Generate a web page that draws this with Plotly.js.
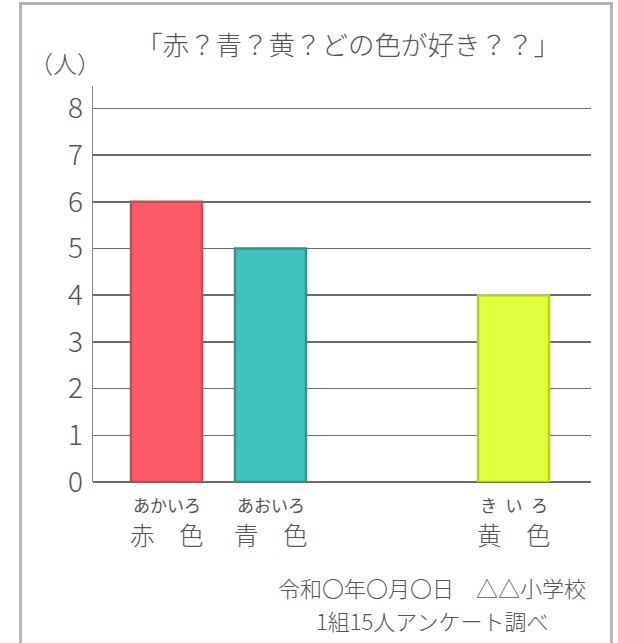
<!DOCTYPE html>
<html>
<head>
<meta charset="utf-8">
<script src="https://cdn.plot.ly/plotly-3.0.1.min.js"></script>
<style>
  html, body { margin: 0; padding: 0; background: #fff; }
  #wrap { position: relative; width: 618px; height: 643px; overflow: hidden; }
  #chart { width: 618px; height: 643px; }
  #frame { position: absolute; left: 19px; top: 2px; width: 594px; height: 700px;
           border: 3px solid #b3b3b3; border-bottom: none; pointer-events: none; box-sizing: border-box; }
</style>
</head>
<body>
<div id="wrap">
  <div id="chart"></div>
  <div id="frame"></div>
</div>
<script>
// ---- data ----
const categories = ["赤　色", "青　色", "黄　色"];
const readings = ["あかいろ", "あおいろ", "き\u2002い\u2002ろ"];
const values = [6, 5, 4];
const yTickValues = [0, 1, 2, 3, 4, 5, 6, 7, 8];
const yTickLabels = ["0", "1", "2", "3", "4", "5", "6", "7", "8"];
const chartTitle = "「赤？青？黄？どの色が好き？？」";
const yUnit = "（人）";
const footerLines = ["令和〇年〇月〇日　△△小学校", "1組15人アンケート調べ"];

// ---- styles ----
const fillColors = ["#FF5A69", "#3DC2BE", "#E1FF3A"];
const lineColors = ["#C94A56", "#2E9592", "#B7CE2E"];
const textColor = "#555555";
const FONT = "'Noto Sans CJK JP', 'Noto Sans', sans-serif";

// layout: the yellow bar sits apart from the first two
const gapBeforeLast = 1.337;
const xPos = categories.map((c, i) => i + (i === categories.length - 1 ? gapBeforeLast : 0));

const trace = {
  type: "bar",
  x: xPos,
  y: values,
  width: 0.683,
  marker: { color: fillColors, line: { color: lineColors, width: 2.5 } },
  hoverinfo: "skip"
};

const annotations = [];
categories.forEach((c, i) => {
  annotations.push({
    x: xPos[i], xref: "x", y: -0.0568, yref: "paper",
    text: readings[i], showarrow: false, xanchor: "center", yanchor: "middle",
    font: { family: FONT, size: 17, color: textColor, weight: 400 }
  });
  annotations.push({
    x: xPos[i], xref: "x", y: -0.1338, yref: "paper",
    text: c, showarrow: false, xanchor: "center", yanchor: "middle",
    font: { family: FONT, size: 24.5, color: textColor, weight: 300 }
  });
});
annotations.push({
  x: -0.057, xref: "paper", y: 1.06, yref: "paper",
  text: yUnit, showarrow: false, xanchor: "center", yanchor: "middle",
  font: { family: FONT, size: 24, color: textColor, weight: 300 }
});
const footerY = [-0.2652, -0.3485];
footerLines.forEach((line, i) => {
  annotations.push({
    x: 0.681, xref: "paper", y: footerY[i], yref: "paper",
    text: line, showarrow: false, xanchor: "center", yanchor: "middle",
    font: { family: FONT, size: 22, color: textColor, weight: 300 }
  });
});

const layout = {
  width: 618, height: 643,
  margin: { l: 93, r: 27, t: 86, b: 161 },
  paper_bgcolor: "#fff", plot_bgcolor: "#fff",
  showlegend: false,
  title: {
    text: chartTitle, x: 348 / 618, xanchor: "center", xref: "container",
    y: 1 - 46 / 643, yanchor: "middle", yref: "container",
    font: { family: FONT, size: 26.5, color: textColor, weight: 300 }
  },
  xaxis: {
    type: "linear", range: [-0.707, 4.082], showgrid: false, zeroline: false,
    showticklabels: false, ticks: "", showline: false, fixedrange: true
  },
  yaxis: {
    range: [0, 8.48], tickvals: yTickValues, ticktext: yTickLabels,
    showgrid: true, gridcolor: "#6b6b6b", gridwidth: 1.5,
    zeroline: true, zerolinecolor: "#6b6b6b", zerolinewidth: 1.5,
    showline: true, linecolor: "#8a8a8a", linewidth: 1.5,
    ticks: "", ticklabelstandoff: 3,
    tickfont: { family: FONT, size: 28, color: textColor, weight: 300 },
    fixedrange: true
  },
  annotations: annotations
};

Plotly.newPlot("chart", [trace], layout, { displayModeBar: false, staticPlot: true });
</script>
</body>
</html>
